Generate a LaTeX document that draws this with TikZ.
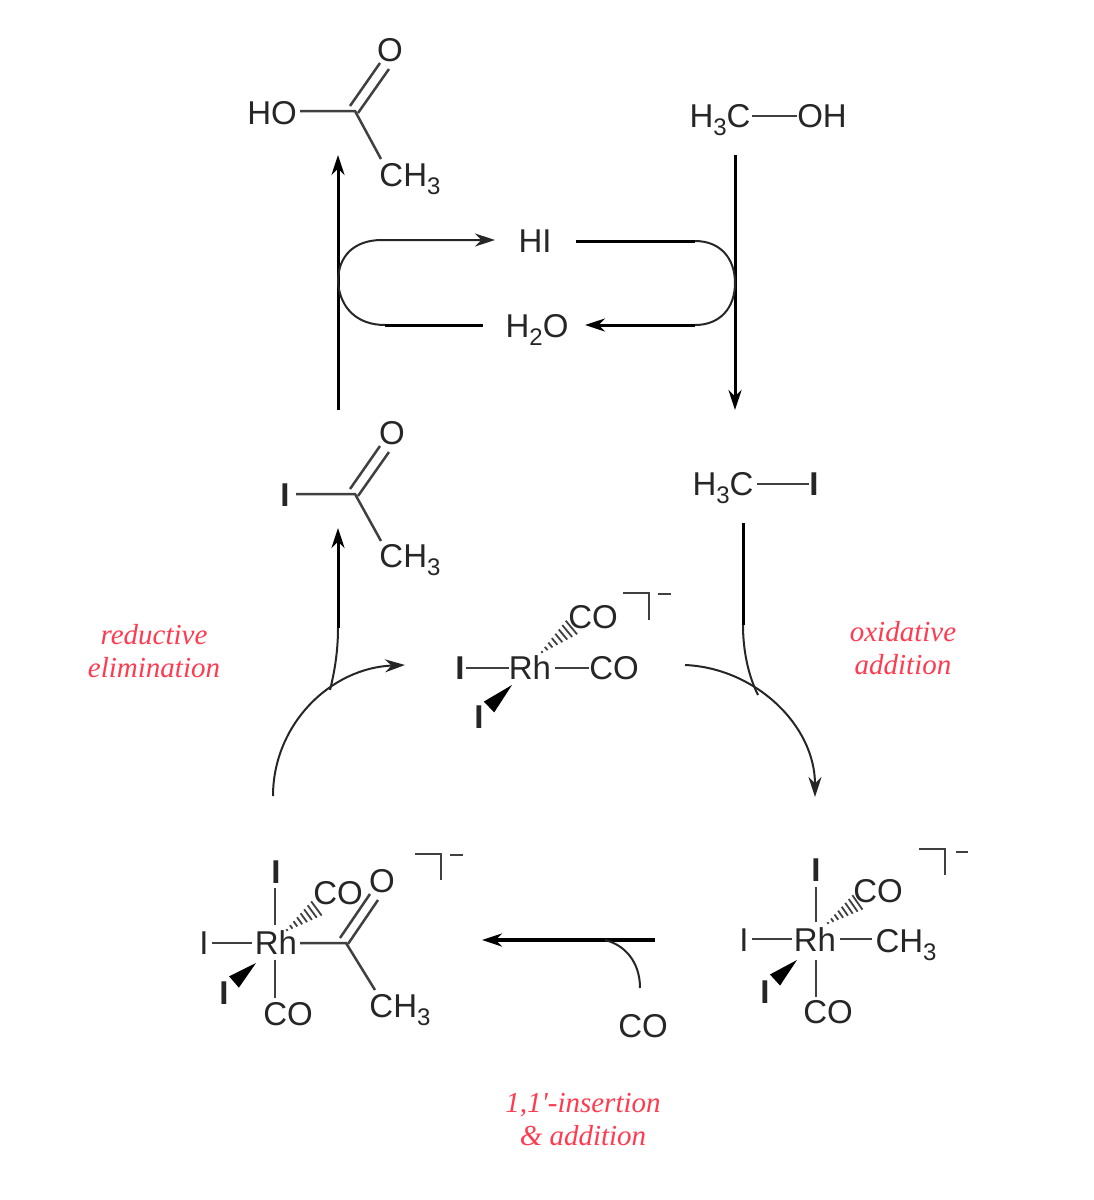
\documentclass[tikz,border=0pt]{standalone}
\usepackage{fontspec}
\setmainfont{Liberation Sans}
\newfontfamily\redfont{Liberation Serif}
\usetikzlibrary{arrows.meta,calc}
\definecolor{ink}{HTML}{262626}
\definecolor{bondc}{HTML}{404040}
\definecolor{redlab}{HTML}{FF3B50}
\newcommand{\subn}[1]{\raisebox{-0.24em}{\fontsize{24}{24}\selectfont #1}}
\newcommand{\hashbond}[2]{%
  \foreach \t [evaluate=\t as \w using 1.0+8*\t] in {0,0.14,...,1.01} {
    \draw[bondc,line width=1.8pt] ($(#1)!\t!(#2)!\w pt!90:(#2)$) -- ($(#1)!\t!(#2)!\w pt!-90:(#2)$);
  }}
\newcommand{\wedgebond}[2]{%
  \fill[black] (#1) -- ($(#2)!7.5pt!90:(#1)$) -- ($(#2)!7.5pt!-90:(#1)$) -- cycle;}
\tikzset{
  x=1pt,y=-1pt,
  atom/.style={text=ink,inner sep=0pt,text height=23.6pt,text depth=0pt,font=\fontsize{33}{33}\selectfont},
  hal/.style={atom,font=\fontsize{33}{33}\selectfont\bfseries},
  bond/.style={draw=bondc,line width=2.5pt},
  flow/.style={draw=ink,line width=2pt},
  rxn/.style={draw=black,line width=3pt},
  tip/.style={-{Stealth[length=20pt,width=13pt]}},
  redtext/.style={text=redlab,inner sep=0pt,align=center,font=\fontsize{29}{33}\selectfont\redfont\itshape}
}
\begin{document}
\begin{tikzpicture}
\useasboundingbox (0,0) rectangle (1094,1200);
% acetic acid
\node[atom] (aaO) at (390,50) {O};
\node[atom] (aaHO) at (272,113) {HO};
\node[atom] (aaMe) at (410,175) {CH\subn{3}};
\coordinate (aaC) at (355,111);
\coordinate (aaMeEnd) at (381,159);
\coordinate (aaO1) at (380,63);
\coordinate (aaO2) at (389,69);
\coordinate (aaC1) at (350,106);
\coordinate (aaC2) at (358,113);
\coordinate (aaHOe) at (300,111);
\draw[bond] (aaHOe) -- (aaC) -- (aaMeEnd);
\draw[bond] (aaC1) -- (aaO1);
\draw[bond] (aaC2) -- (aaO2);
% methanol
\node[atom] (mH) at (720,116) {H\subn{3}C};
\node[atom] (mOH) at (822,116) {OH};
\coordinate (mHe) at (752,116);
\draw[bond] (mHe) -- (mOH.west);
% HI / H2O
\node[atom] (hi) at (535,241) {HI};
\node[atom] (water) at (537,326) {H\subn{2}O};
% main vertical arrows
\coordinate (upS) at (338,410); \coordinate (upE) at (338,155);
\coordinate (dnS) at (735,155); \coordinate (dnE) at (735,410);
\draw[rxn,tip] (upS) -- (upE);
\draw[rxn,tip] (dnS) -- (dnE);
% side loops
\coordinate (lJ) at (338,282);
\coordinate (rJ) at (735,283);
\coordinate (hiIn) at (495,240);
\coordinate (wIn) at (483,325);
\coordinate (hiOut) at (576,241);
\coordinate (wOut) at (585,325);
\draw[flow,tip] (lJ) .. controls (338,255) and (355,240) .. (382,240) -- (hiIn);
\draw[flow] (lJ) .. controls (340,308) and (357,325) .. (385,325);
\draw[rxn] (385,325) -- (wIn);
\draw[rxn] (hiOut) -- (695,241);
\draw[flow] (695,241) .. controls (720,241) and (735,258) .. (rJ);
\draw[flow] (rJ) .. controls (735,308) and (720,325) .. (695,325);
\draw[rxn,tip] (695,325) -- (wOut);
% acetyl iodide
\node[hal] (aiI) at (285,495) {I};
\node[atom] (aiO) at (392,433) {O};
\node[atom] (aiMe) at (410,556) {CH\subn{3}};
\coordinate (aiC) at (355,494);
\coordinate (aiMeEnd) at (381,541);
\coordinate (aiO1) at (380,446);
\coordinate (aiO2) at (389,452);
\coordinate (aiC1) at (350,489);
\coordinate (aiC2) at (358,496);
\coordinate (aiIe) at (296,494);
\draw[bond] (aiIe) -- (aiC) -- (aiMeEnd);
\draw[bond] (aiC1) -- (aiO1);
\draw[bond] (aiC2) -- (aiO2);
% methyl iodide
\node[atom] (miH) at (723,484) {H\subn{3}C};
\node[hal] (miI) at (814,484) {I};
\coordinate (miS) at (757,484);
\draw[bond] (miS) -- (miI.west);
% central Rh
\node[atom] (cRh) at (530,668) {Rh};
\node[hal] (cI) at (460,668) {I};
\node[atom] (cCO) at (614,668) {CO};
\node[atom] (cCOu) at (593,617) {CO};
\node[hal] (cIw) at (479,717) {I};
\coordinate (cIe) at (466,668);
\coordinate (cRe) at (555,668);
\draw[bond] (cIe) -- (cRh.west);
\draw[bond] (cRe) -- (cCO.west);
\coordinate (cHa) at (542,652); \coordinate (cHb) at (572,627);
\hashbond{cHa}{cHb}
\coordinate (cWa) at (512,685); \coordinate (cWb) at (489,707);
\wedgebond{cWa}{cWb}
\coordinate (cBa) at (623,593); \coordinate (cBb) at (649,593); \coordinate (cBc) at (649,620);
\draw[bond] (cBa) -- (cBb) -- (cBc);
\coordinate (cMa) at (658,594); \coordinate (cMb) at (671,594);
\draw[bond] (cMa) -- (cMb);
% cycle arrows
\coordinate (lS) at (273,796); \coordinate (lE) at (405,665);
\draw[flow,tip] (lS) .. controls (273,725) and (330,668) .. (lE);
\coordinate (lB) at (330,690); \coordinate (lT) at (338,628); \coordinate (lA) at (338,528);
\draw[flow] (lB) .. controls (335,670) and (338,650) .. (lT);
\draw[rxn,tip] (lT) -- (lA);
\coordinate (rS) at (685,665); \coordinate (rE) at (815,797);
\draw[flow,tip] (rS) .. controls (755,668) and (815,725) .. (rE);
\coordinate (rT) at (743,523); \coordinate (rM) at (743,625); \coordinate (rB) at (758,695);
\draw[rxn] (rT) -- (rM);
\draw[flow] (rM) .. controls (743,650) and (748,675) .. (rB);
% insertion arrow
\node[atom] (coFree) at (643,1026) {CO};
\coordinate (iS) at (655,940); \coordinate (iE) at (482,940); \coordinate (iB) at (605,940); \coordinate (iC) at (640,988);
\draw[rxn,line width=3.4pt,tip] (iS) -- (iE);
\draw[flow] (iC) .. controls (640,962) and (625,945) .. (iB);
% right complex
\node[atom] (rRh) at (815,940) {Rh};
\node[hal] (rI) at (816,870) {I};
\node[atom] (rIl) at (744,940) {I};
\node[atom] (rMe) at (906,941) {CH\subn{3}};
\node[atom] (rCOu) at (878,891) {CO};
\node[atom] (rCOd) at (828,1012) {CO};
\node[hal] (rIw) at (765,992) {I};
\coordinate (rTa) at (816,887); \coordinate (rTb) at (816,922);
\coordinate (rLa) at (752,939); \coordinate (rLb) at (792,939);
\coordinate (rRa) at (840,939); \coordinate (rRb) at (872,939);
\coordinate (rDa) at (816,960); \coordinate (rDb) at (816,997);
\draw[bond] (rTa) -- (rTb);
\draw[bond] (rLa) -- (rLb);
\draw[bond] (rRa) -- (rRb);
\draw[bond] (rDa) -- (rDb);
\coordinate (rHa) at (828,923); \coordinate (rHb) at (858,902);
\hashbond{rHa}{rHb}
\coordinate (rWa) at (797,960); \coordinate (rWb) at (775,980);
\wedgebond{rWa}{rWb}
\coordinate (rBa) at (919,849); \coordinate (rBb) at (945,849); \coordinate (rBc) at (945,875);
\draw[bond] (rBa) -- (rBb) -- (rBc);
\coordinate (rMa) at (956,852); \coordinate (rMb) at (968,852);
\draw[bond] (rMa) -- (rMb);
% left complex
\node[atom] (lRh) at (276,943) {Rh};
\node[hal] (lI) at (276,872) {I};
\node[atom] (lIl) at (204,943) {I};
\node[atom] (lCOu) at (338,893) {CO};
\node[atom] (lO) at (382,881) {O};
\node[atom] (lCOd) at (288,1014) {CO};
\node[atom] (lMe) at (400,1006) {CH\subn{3}};
\node[hal] (lIw) at (224,993) {I};
\coordinate (lTa) at (275,888); \coordinate (lTb) at (275,925);
\coordinate (lLa) at (212,943); \coordinate (lLb) at (252,943);
\coordinate (lRa) at (300,943); \coordinate (lC) at (346,943);
\coordinate (lDa) at (275,960); \coordinate (lDb) at (275,998);
\coordinate (lMeE) at (375,990);
\coordinate (lO1) at (370,894); \coordinate (lO2) at (378,900);
\coordinate (lC1) at (340,938); \coordinate (lC2) at (348,944);
\draw[bond] (lTa) -- (lTb);
\draw[bond] (lLa) -- (lLb);
\draw[bond] (lRa) -- (lC) -- (lMeE);
\draw[bond] (lDa) -- (lDb);
\draw[bond] (lC1) -- (lO1);
\draw[bond] (lC2) -- (lO2);
\coordinate (lHa) at (287,930); \coordinate (lHb) at (317,908);
\hashbond{lHa}{lHb}
\coordinate (lWa) at (256,963); \coordinate (lWb) at (234,982);
\wedgebond{lWa}{lWb}
\coordinate (lBa) at (415,854); \coordinate (lBb) at (441,854); \coordinate (lBc) at (441,880);
\draw[bond] (lBa) -- (lBb) -- (lBc);
\coordinate (lMa) at (450,855); \coordinate (lMb) at (463,855);
\draw[bond] (lMa) -- (lMb);
% red labels
\node[redtext] (t1) at (154,651) {reductive\\elimination};
\node[redtext] (t2) at (903,648) {oxidative\\addition};
\node[redtext] (t3) at (583,1120) {1,1'-insertion\\\& addition};
\end{tikzpicture}
\end{document}
